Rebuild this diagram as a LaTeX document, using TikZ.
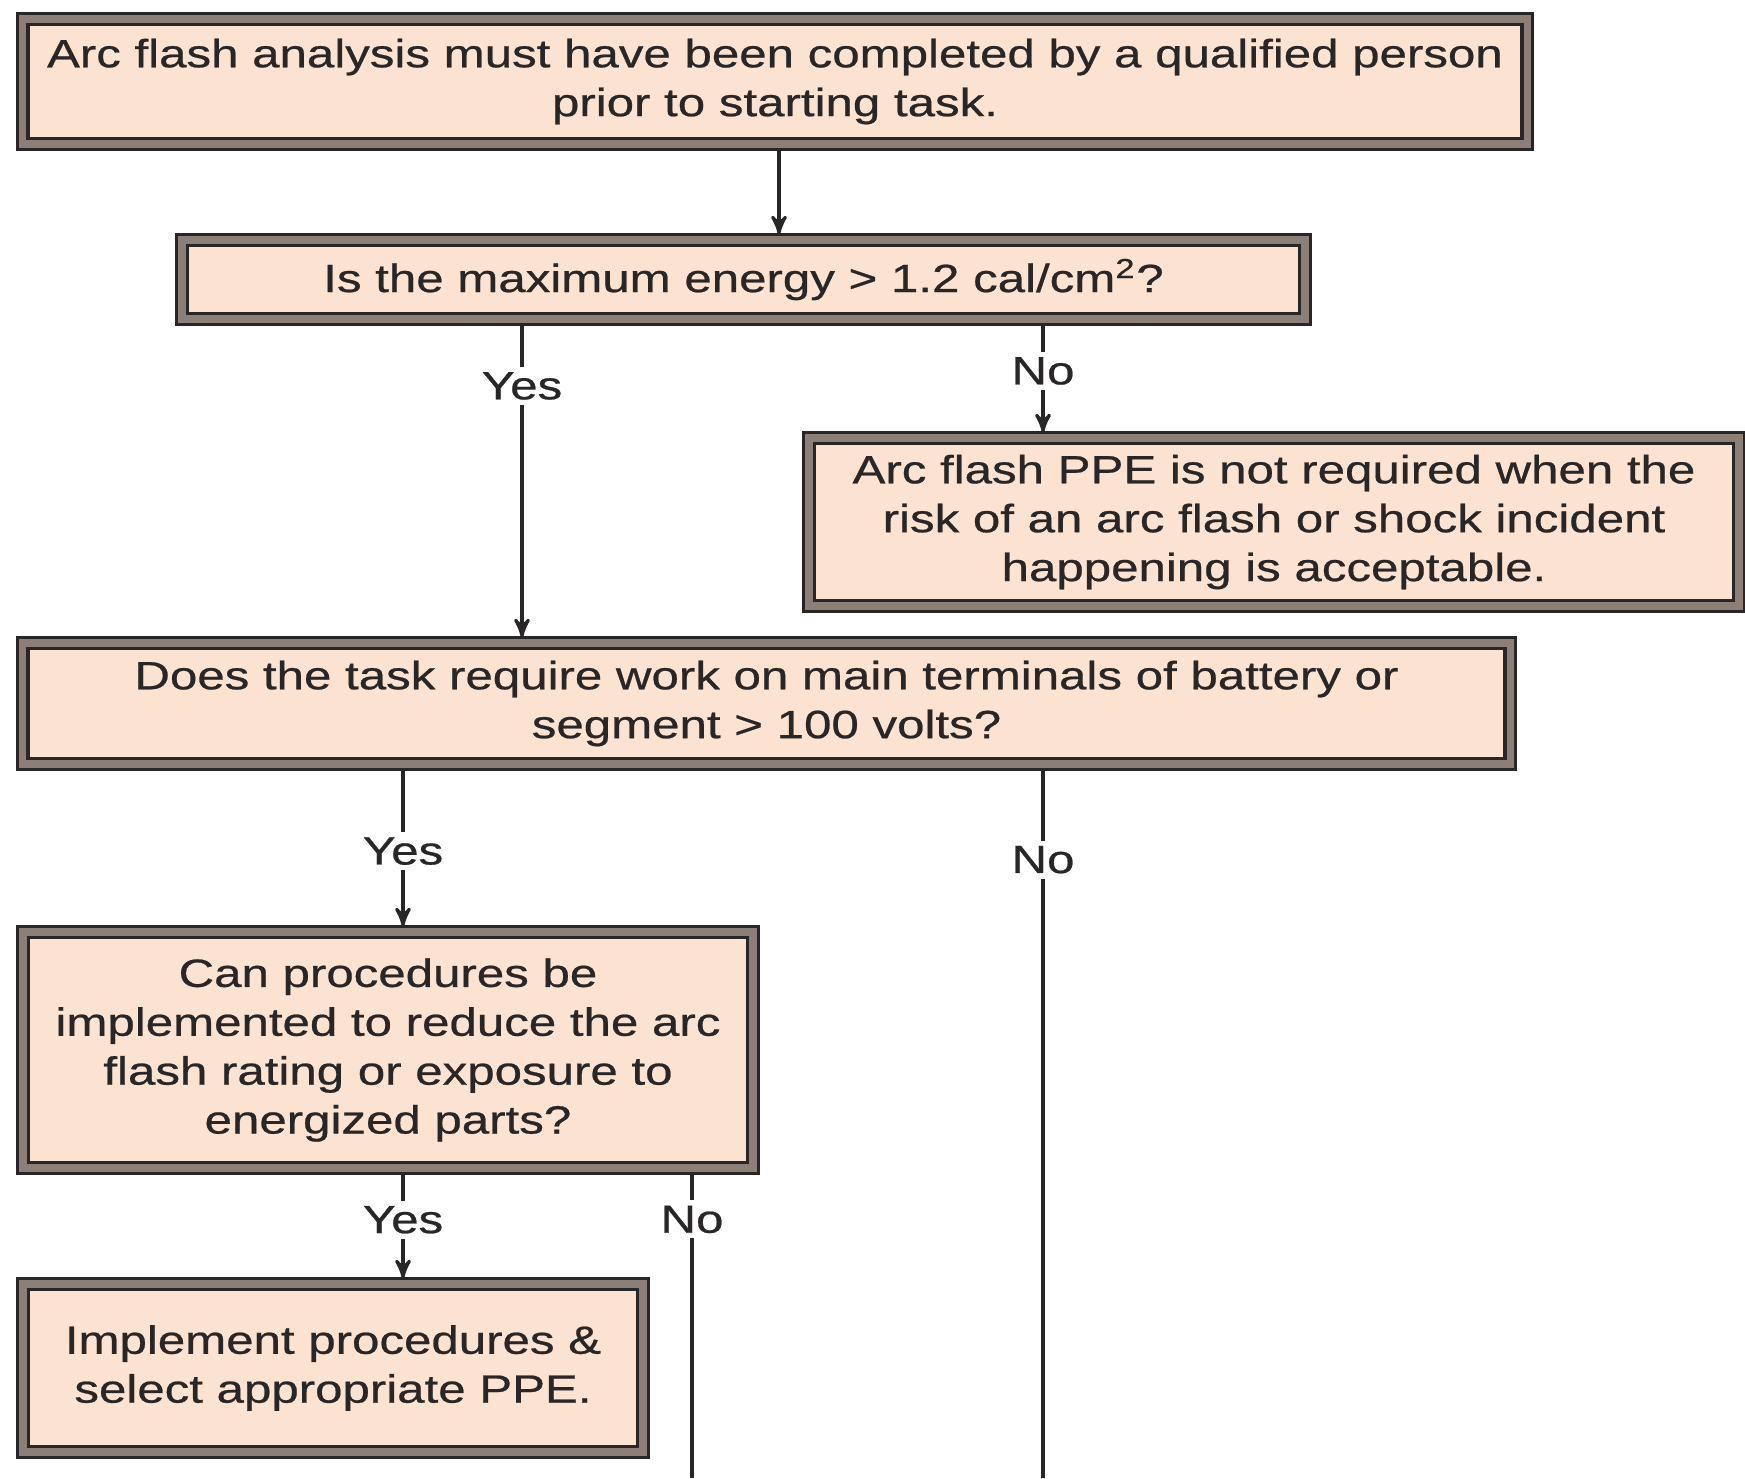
\documentclass[tikz,border=0pt]{standalone}
\usepackage{fontspec}
\setmainfont{Liberation Sans}[FakeStretch=1.25, FakeBold=0.6]
\usepackage{tikz}
\usetikzlibrary{arrows}
\definecolor{peach}{RGB}{252, 226, 208}
\definecolor{bevelgray}{RGB}{140, 127, 119}
\definecolor{inkdark}{RGB}{40, 38, 38}

\begin{document}
\begin{tikzpicture}[x=0.01cm, y=-0.01cm,
        framebox/.style={draw=inkdark, line width=0.9pt, double=bevelgray, double distance=2.2pt,
                         fill=peach, align=center, inner sep=0pt, outer sep=1.6pt,
                         text=inkdark, font=\fontsize{11.2}{13.9}\selectfont},
        answer/.style={fill=white, inner sep=1.5pt, text=inkdark, font=\fontsize{11.2}{13.9}\selectfont},
        flow/.style={draw=inkdark, line width=0.9pt, -stealth'}]
    \useasboundingbox (0,0) rectangle (1745,1478);

    \node[framebox, minimum width=15.04cm, minimum height=1.25cm] (analysis) at (775,81.5)
        {Arc flash analysis must have been completed by a qualified person\\prior to starting task.};
    \node[framebox, minimum width=11.23cm, minimum height=0.79cm] (energy) at (743.5,279.5)
        {Is the maximum energy > 1.2 cal/cm\textsuperscript{2}?};
    \node[framebox, minimum width=9.30cm, minimum height=1.68cm] (noppe) at (1274,522)
        {Arc flash PPE is not required when the\\risk of an arc flash or shock incident\\happening is acceptable.};
    \node[framebox, minimum width=14.87cm, minimum height=1.21cm] (terminals) at (766.5,703.5)
        {Does the task require work on main terminals of battery or\\segment > 100 volts?};
    \node[framebox, minimum width=7.30cm, minimum height=2.36cm] (reduce) at (388,1050)
        {Can procedures be\\implemented to reduce the arc\\flash rating or exposure to\\energized parts?};
    \node[framebox, minimum width=6.20cm, minimum height=1.68cm] (implement) at (333,1368)
        {Implement procedures \&\\select appropriate PPE.};

    % columns of the connectors
    \coordinate (colTop) at (779,0);
    \coordinate (colYes) at (522,0);
    \coordinate (colNo) at (1043,0);
    \coordinate (colYesB) at (403,0);
    \coordinate (colNoB) at (692,0);
    \coordinate (noEnd) at (1043,1478);
    \coordinate (noEndB) at (692,1478);

    \draw[flow] (analysis.south -| colTop) -- (energy.north -| colTop);
    \draw[flow] (energy.south -| colYes) -- node[answer, pos=0.196] (yesA) {Yes} (terminals.north -| colYes);
    \draw[flow] (energy.south -| colNo) -- node[answer, pos=0.43] (noA) {No} (noppe.north -| colNo);
    \draw[flow] (terminals.south -| colYesB) -- node[answer, pos=0.52] (yesB) {Yes} (reduce.north -| colYesB);
    \draw[flow, -] (terminals.south -| colNo) -- node[answer, pos=0.127] (noB) {No} (noEnd);
    \draw[flow] (reduce.south -| colYesB) -- node[answer, pos=0.44] (yesC) {Yes} (implement.north -| colYesB);
    \draw[flow, -] (reduce.south -| colNoB) -- node[answer, pos=0.15] (noC) {No} (noEndB);
\end{tikzpicture}
\end{document}
